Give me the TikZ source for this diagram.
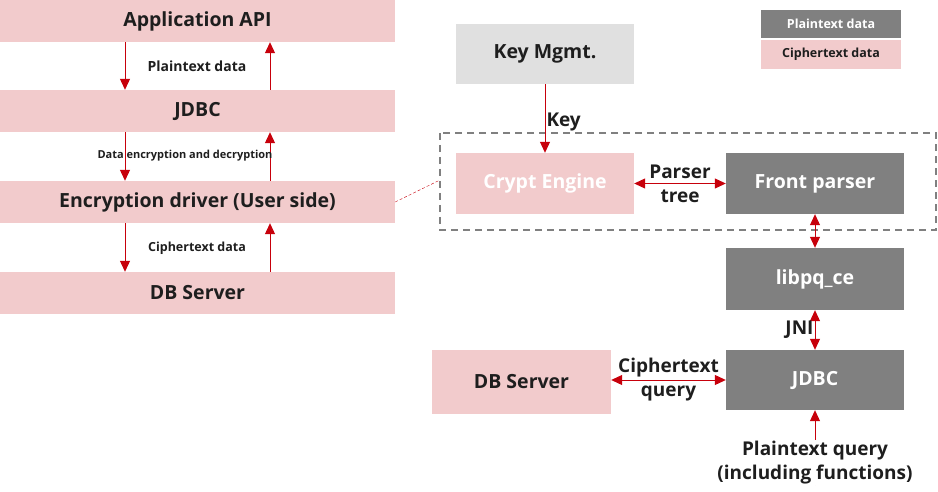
\documentclass[tikz,border=0pt]{standalone}
\usepackage{fontspec}
\setmainfont{Open Sans}
\usetikzlibrary{arrows.meta,positioning}
\definecolor{pinkbox}{HTML}{F2CBCC}
\definecolor{greybox}{HTML}{808080}
\definecolor{lightbox}{HTML}{E0E0E0}
\definecolor{redline}{HTML}{C7000B}
\definecolor{txt}{HTML}{1E1E1E}

\begin{document}
\begin{tikzpicture}[x=1pt,y=-1pt,
      cipherbox/.style={draw=none,fill=pinkbox,inner sep=0pt,text=txt,font=\bfseries\fontsize{19.5}{22}\selectfont},
      plainbox/.style={draw=none,fill=greybox,inner sep=0pt,text=white,font=\bfseries\fontsize{19.5}{22}\selectfont},
      keybox/.style={draw=none,fill=lightbox,inner sep=0pt,text=txt,font=\bfseries\fontsize{19.5}{22}\selectfont},
      myarrow/.style={draw=redline,line width=1pt,-{Triangle[width=10pt,length=11pt]}},
      myboth/.style={draw=redline,line width=1pt,{Triangle[width=10pt,length=11pt]}-{Triangle[width=10pt,length=11pt]}},
      lbl/.style={text=txt,font=\bfseries\fontsize{19}{21}\selectfont,align=center,inner sep=1pt},
      smalllbl/.style={text=txt,font=\bfseries\fontsize{12.5}{14}\selectfont}
      ]
  \useasboundingbox (0,0) rectangle (938,492);
  % left stack
  \node[cipherbox,minimum width=395pt,minimum height=42pt] (api) at (197.5,21) {Application API};
  \node[cipherbox,minimum width=395pt,minimum height=42pt] (jdbcl) at (197.5,111) {JDBC};
  \node[cipherbox,minimum width=395pt,minimum height=42pt] (drv) at (197.5,202) {Encryption driver (User side)};
  \node[cipherbox,minimum width=395pt,minimum height=42pt] (dbl) at (197.5,293) {DB Server};

  \draw[myarrow] (api.south -| 125,0) -- (jdbcl.north -| 125,0);
  \draw[myarrow] (jdbcl.north -| 270,0) -- (api.south -| 270,0);
  \draw[myarrow] (jdbcl.south -| 125,0) -- (drv.north -| 125,0);
  \draw[myarrow] (drv.north -| 270,0) -- (jdbcl.south -| 270,0);
  \draw[myarrow] (drv.south -| 125,0) -- (dbl.north -| 125,0);
  \draw[myarrow] (dbl.north -| 270,0) -- (drv.south -| 270,0);
  \node[smalllbl,font=\bfseries\fontsize{14}{16}\selectfont] (l1) at (197,66) {Plaintext data};
  \node[smalllbl,font=\bfseries\fontsize{11}{13}\selectfont] (l2) at (185,156) {Data encryption and decryption};
  \node[smalllbl] (l3) at (197,248) {Ciphertext data};

  % legend
  \node[plainbox,minimum width=140pt,minimum height=28pt,font=\bfseries\fontsize{12.5}{14}\selectfont] (legp) at (831,24) {Plaintext data};
  \node[cipherbox,minimum width=140pt,minimum height=29pt,font=\bfseries\fontsize{12.5}{14}\selectfont] (legc) at (831,54.5) {Ciphertext data};

  % right side
  \node[keybox,minimum width=178pt,minimum height=60pt] (key) at (545,54) {Key Mgmt.};
  \node[cipherbox,text=white,minimum width=178pt,minimum height=61pt] (crypt) at (545,183.5) {Crypt Engine};
  \node[plainbox,minimum width=178pt,minimum height=61pt] (front) at (815,183.5) {Front parser};
  \node[plainbox,minimum width=178pt,minimum height=62pt] (libpq) at (815,279) {libpq\_ce};
  \node[plainbox,minimum width=178pt,minimum height=60pt] (jdbcr) at (815,380) {JDBC};
  \node[cipherbox,minimum width=179pt,minimum height=64pt] (dbr) at (521.5,382) {DB Server};
  \coordinate (qin) at (815,485);

  \draw[gray,dashed,line width=1.3pt,dash pattern=on 7pt off 5pt] (440,133) rectangle (936,230);
  \coordinate (dashl) at (440,180);
  \draw[redline,densely dashed] (drv.east) -- (dashl);

  \draw[myarrow] (key) -- node[lbl,right,pos=0.55] {Key} (crypt);
  \draw[myboth] (crypt) -- node[lbl,font=\bfseries\fontsize{19}{24}\selectfont] {Parser\\tree} (front);
  \draw[myboth] (front) -- (libpq);
  \draw[myboth] (libpq) -- node[lbl,left] {JNI} (jdbcr);
  \draw[myboth] (dbr.east |- jdbcr) -- node[lbl,font=\bfseries\fontsize{19}{24}\selectfont] {Ciphertext\\query} (jdbcr.west);
  \draw[myarrow] (qin) -- node[lbl,fill=white,font=\bfseries\fontsize{19}{24}\selectfont,pos=0.3] {Plaintext query\\(including functions)} (jdbcr);
\end{tikzpicture}
\end{document}
